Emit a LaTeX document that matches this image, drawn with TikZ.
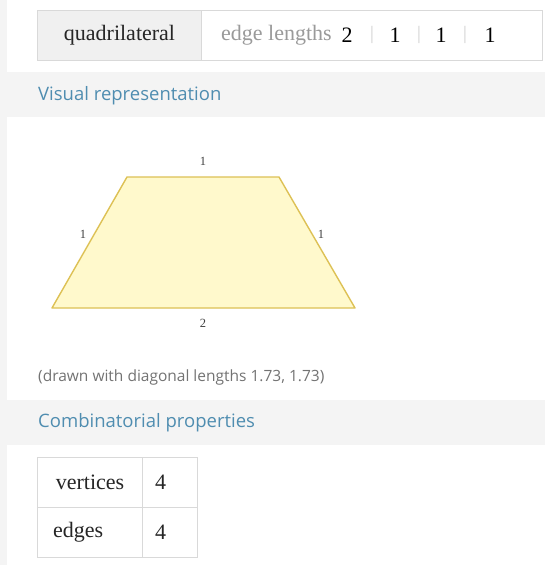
\documentclass[tikz,border=0pt]{standalone}
\usepackage{fontspec}
\setmainfont{Liberation Serif}
\setsansfont{Open Sans}
\usepackage{xcolor}
\usepackage{tikz}
\usetikzlibrary{positioning}
\usetikzlibrary{calc}

\definecolor{cellgray}{HTML}{F0F0F0}
\definecolor{bandgray}{HTML}{F4F4F4}
\definecolor{rulegray}{HTML}{D9D9D9}
\definecolor{headblue}{HTML}{4F8DB0}
\definecolor{softtext}{HTML}{9A9A9A}
\definecolor{trapfill}{HTML}{FFF9CC}
\definecolor{trapline}{HTML}{DDC155}

\begin{document}
\begin{tikzpicture}[
        x=1pt, y=-1pt,
        cell/.style={draw=rulegray, line width=1pt, inner sep=0pt, anchor=north west},
        band/.style={fill=bandgray, draw=none, inner sep=0pt, anchor=north west,
            minimum width=538pt, minimum height=45pt},
        heading/.style={font=\sffamily\fontsize{18.5}{21}\selectfont, text=headblue, anchor=west, inner sep=0pt},
        serifbig/.style={font=\fontsize{22}{26}\selectfont, text=black!85},
        edgelabel/.style={font=\fontsize{12.5}{14}\selectfont, text=black!75, inner sep=1pt}
    ]

    %=== Page frame ===%
    \useasboundingbox (0,0) rectangle (545,565);
    \fill[white] (0,0) rectangle (545,565);
    \fill[bandgray] (0,0) rectangle (7,565);

    %=== Title table ===%
    \node[cell, fill=cellgray, minimum width=164pt, minimum height=50pt] (kind) at (37,10) {};
    \node[cell, fill=white, minimum width=341pt, minimum height=50pt] (lengths) at (201,10) {};
    \node[serifbig] (kindtext) at (kind.center) {quadrilateral};
    \node[serifbig, text=softtext, anchor=west, inner sep=0pt] (lentext) at (221,35) {edge lengths};
    \foreach \x/\t [count=\i] in {347/2, 395/1, 441/1, 490/1}
        \node[serifbig, text=black] (len\i) at (\x,35) {\t};
    \foreach \x [count=\i] in {372, 419, 465}
        \node[font=\fontsize{19}{20}\selectfont, text=black!18] (sep\i) at (\x,35) {|};

    %=== Visual representation ===%
    \node[band] (visband) at (7,72) {};
    \node[heading] (vishead) at (38,96) {Visual representation};

    \coordinate (bl) at (52,308);
    \coordinate (br) at (355,308);
    \coordinate (tr) at (279,177);
    \coordinate (tl) at (127,177);
    \draw[fill=trapfill, draw=trapline, line width=1.4pt, line join=round]
        (bl) -- (br) -- (tr) -- (tl) -- cycle;

    \node[edgelabel] (etop) at (203,161) {1};
    \node[edgelabel] (eleft) at (83,234) {1};
    \node[edgelabel] (eright) at (321,234) {1};
    \node[edgelabel] (ebottom) at (203,323) {2};

    \node[font=\sffamily\fontsize{15.5}{17}\selectfont, text=black!55, anchor=west, inner sep=0pt]
        (caption) at (38,377) {(drawn with diagonal lengths 1.73, 1.73)};

    %=== Combinatorial properties ===%
    \node[band] (combband) at (7,400) {};
    \node[heading] (combhead) at (38,423) {Combinatorial properties};

    \node[cell, minimum width=105pt, minimum height=50pt] (vname) at (37,457) {};
    \node[cell, minimum width=55pt, minimum height=50pt] (vval) at (142,457) {};
    \node[cell, minimum width=105pt, minimum height=50pt] (ename) at (37,507) {};
    \node[cell, minimum width=55pt, minimum height=50pt] (eval) at (142,507) {};
    \node[serifbig] (vnametext) at (vname.center) {vertices};
    \node[serifbig, anchor=west, inner sep=0pt] (vvaltext) at (155,482) {4};
    \node[serifbig, anchor=west, inner sep=0pt] (enametext) at (53,532) {edges};
    \node[serifbig, anchor=west, inner sep=0pt] (evaltext) at (155,532) {4};

\end{tikzpicture}
\end{document}
